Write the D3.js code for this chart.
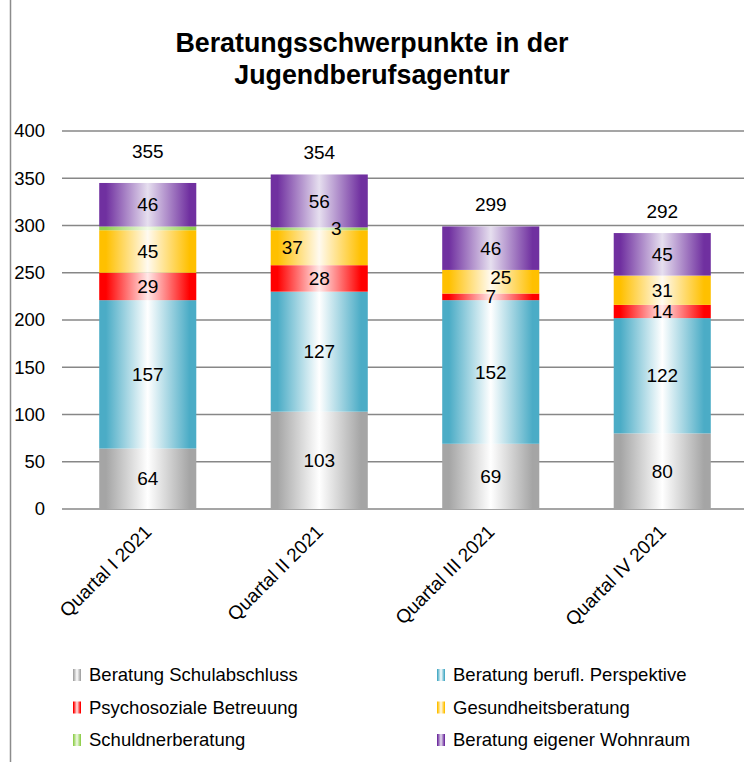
<!DOCTYPE html>
<html lang="de">
<head>
    <meta charset="UTF-8">
    <title>Beratungsschwerpunkte in der Jugendberufsagentur</title>
    <script src="https://d3js.org/d3.v7.min.js"></script>
    <style>
        body { margin: 0; background: #fff; }
        text { font-family: Arial, "Liberation Sans", sans-serif; fill: #000; }
    </style>
</head>
<body>
    <div id="chart"></div>
    <script>
        // Daten
        const quartale = ["Quartal I 2021", "Quartal II 2021", "Quartal III 2021", "Quartal IV 2021"];
        const reihen = ["Beratung Schulabschluss", "Beratung berufl. Perspektive", "Psychosoziale Betreuung",
                        "Gesundheitsberatung", "Schuldnerberatung", "Beratung eigener Wohnraum"];
        const schulabschluss = [64, 103, 69, 80];
        const beruflPerspektive = [157, 127, 152, 122];
        const psychosozial = [29, 28, 7, 14];
        const gesundheit = [45, 37, 25, 31];
        const schuldner = [4, 3, 0, 0];
        const wohnraum = [46, 56, 46, 45];
        const gesamt = [355, 354, 299, 292];
        const yTicks = [0, 50, 100, 150, 200, 250, 300, 350, 400];

        const werte = [schulabschluss, beruflPerspektive, psychosozial, gesundheit, schuldner, wohnraum];

        // Farben: Rand / Mitte des Verlaufs
        const farben = [
            ["#a5a5a5", "#ffffff"],
            ["#4bacc6", "#ffffff"],
            ["#ff0000", "#ffe8e8"],
            ["#ffc000", "#fffaf0"],
            ["#92d050", "#f2fae9"],
            ["#7030a0", "#e6dfef"]
        ];

        // Beschriftungen, die Excel verschoben bzw. ausgeblendet hat
        const labelVersatz = { "4-1": [17, 0], "3-1": [-27, 0], "3-2": [10, -4] };
        const ohneLabel = { "4-0": true };

        const breite = 744, hoehe = 762;
        const svg = d3.select("#chart").append("svg")
            .attr("width", breite).attr("height", hoehe);

        const defs = svg.append("defs");
        farben.forEach((f, i) => {
            const g = defs.append("linearGradient").attr("id", "verlauf" + i)
                .attr("x1", "0%").attr("x2", "100%").attr("y1", "0%").attr("y2", "0%");
            g.append("stop").attr("offset", "0%").attr("stop-color", f[0]);
            g.append("stop").attr("offset", "7%").attr("stop-color", f[0]);
            g.append("stop").attr("offset", "50%").attr("stop-color", f[1]);
            g.append("stop").attr("offset", "93%").attr("stop-color", f[0]);
            g.append("stop").attr("offset", "100%").attr("stop-color", f[0]);
        });

        // linker Rahmen
        svg.append("line").attr("x1", 10.5).attr("x2", 10.5).attr("y1", 0).attr("y2", hoehe)
            .attr("stroke", "#8c8c8c").attr("stroke-width", 1.5);

        // Titel
        const titel = svg.append("text").attr("text-anchor", "middle")
            .attr("font-size", 26.8).attr("font-weight", "bold");
        titel.append("tspan").attr("x", 372).attr("y", 52).text("Beratungsschwerpunkte in der");
        titel.append("tspan").attr("x", 372).attr("y", 84).text("Jugendberufsagentur");

        const x = d3.scaleBand().domain(quartale).range([62, 748])
            .paddingInner(0.434).paddingOuter(0.217);
        const y = d3.scaleLinear().domain([0, 400]).range([509, 131]);

        // Gitternetz
        svg.append("g").selectAll("line").data(yTicks).join("line")
            .attr("x1", 62).attr("x2", 748)
            .attr("y1", d => y(d)).attr("y2", d => y(d))
            .attr("stroke", "#878787").attr("stroke-width", 1.4);

        // y-Achse
        const yAchse = svg.append("g").attr("transform", "translate(45,0)")
            .call(d3.axisLeft(y).tickValues(yTicks).tickSize(0).tickPadding(0));
        yAchse.select(".domain").remove();
        yAchse.selectAll("text").attr("font-size", 18.5).attr("font-family", "Arial, 'Liberation Sans', sans-serif")
            .attr("fill", "#000");

        // gestapelte Daten
        const zeilen = quartale.map((q, i) => {
            const z = { quartal: q };
            reihen.forEach((r, j) => { z[r] = werte[j][i]; });
            return z;
        });
        const stapel = d3.stack().keys(reihen)(zeilen);

        const gruppen = svg.append("g").selectAll("g").data(stapel).join("g")
            .attr("fill", (d, i) => "url(#verlauf" + i + ")");
        gruppen.selectAll("rect").data(d => d).join("rect")
            .attr("x", d => x(d.data.quartal))
            .attr("width", x.bandwidth())
            .attr("y", d => y(d[1]))
            .attr("height", d => y(d[0]) - y(d[1]));

        // Segmentbeschriftungen
        const labels = svg.append("g").attr("font-size", 19).attr("text-anchor", "middle");
        stapel.forEach((s, j) => {
            s.forEach((d, i) => {
                const wert = d[1] - d[0];
                const key = j + "-" + i;
                if (wert <= 0 || ohneLabel[key]) return;
                const v = labelVersatz[key] || [0, 0];
                labels.append("text")
                    .attr("x", x(d.data.quartal) + x.bandwidth() / 2 + v[0])
                    .attr("y", y((d[0] + d[1]) / 2) + v[1])
                    .attr("dy", "0.35em")
                    .text(wert);
            });
        });

        // Summen
        svg.append("g").attr("font-size", 19).attr("text-anchor", "middle")
            .selectAll("text").data(gesamt).join("text")
            .attr("x", (d, i) => x(quartale[i]) + x.bandwidth() / 2)
            .attr("y", d => y(d) - 22)
            .attr("dy", "0.35em")
            .text(d => d);

        // x-Achse Beschriftungen
        svg.append("g").attr("font-size", 19).attr("text-anchor", "end")
            .selectAll("text").data(quartale).join("text")
            .attr("transform", d => `translate(${x(d) + x.bandwidth() / 2 + 5},533) rotate(-45)`)
            .text(d => d);

        // Legende
        const legende = svg.append("g").attr("font-size", 18.5);
        const legPos = reihen.map((r, i) => ({ name: r, idx: i, lx: i % 2 === 0 ? 73 : 437, ly: 675 + Math.floor(i / 2) * 32.5 }));
        const eintrag = legende.selectAll("g").data(legPos).join("g")
            .attr("transform", d => `translate(${d.lx},${d.ly})`);
        eintrag.append("rect").attr("x", 0).attr("y", -6).attr("width", 8).attr("height", 12)
            .attr("fill", d => "url(#verlauf" + d.idx + ")");
        eintrag.append("text").attr("x", 16).attr("dy", "0.35em").text(d => d.name);
    </script>
</body>
</html>
